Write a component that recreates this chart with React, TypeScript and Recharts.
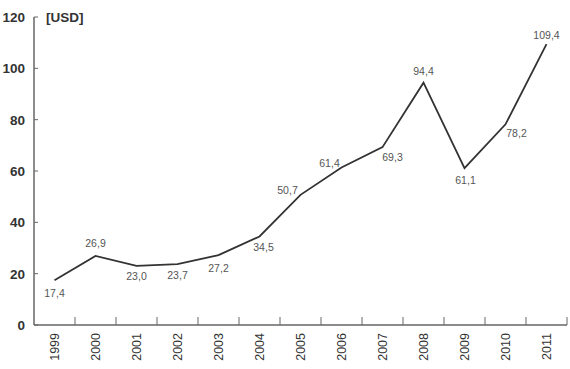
import { Line, LineChart, LabelList, ReferenceLine, XAxis, YAxis } from "recharts";

const years = [1999, 2000, 2001, 2002, 2003, 2004, 2005, 2006, 2007, 2008, 2009, 2010, 2011];
const prices = [17.4, 26.9, 23.0, 23.7, 27.2, 34.5, 50.7, 61.4, 69.3, 94.4, 61.1, 78.2, 109.4];
const yTicks = [0, 20, 40, 60, 80, 100, 120];
const boundaryTicks = [1999.5, 2000.5, 2001.5, 2002.5, 2003.5, 2004.5, 2005.5, 2006.5, 2007.5, 2008.5, 2009.5, 2010.5, 2011.5];
// where each value label sits relative to its point
const labelOffsets: [number, number][] = [
  [0, 13], [0, -13], [0, 10], [0, 11], [0, 13], [4, 11], [-13, -5],
  [-12, -4], [10, 10], [0, -12], [1, 12], [11, 9], [0, -9],
];

const data = years.map((year, i) => ({ year, price: prices[i] }));

const fmt = (v: number) => v.toFixed(1).replace(".", ",");

function YTick({ x, y, payload }: any) {
  return (
    <g>
      <line x1={x + 9} x2={x + 13} y1={y} y2={y} stroke="#666" strokeWidth={1} />
      <text x={x} y={y} dy={5} textAnchor="end" fontSize={13.5} fontWeight="bold" fill="#333" fontFamily="Liberation Sans, Arial, sans-serif">
        {payload.value}
      </text>
    </g>
  );
}

function YearTick({ x, y, payload }: any) {
  return (
    <text
      x={x}
      y={y}
      transform={`rotate(-90 ${x} ${y})`}
      dy={4.5}
      dx={-8}
      textAnchor="end"
      fontSize={12.5}
      fill="#333"
      fontFamily="Liberation Sans, Arial, sans-serif"
    >
      {payload.value}
    </text>
  );
}

function ValueLabel({ x, y, value, index }: any) {
  const [dx, dy] = labelOffsets[index] ?? [0, -10];
  return (
    <text x={x + dx} y={y + dy} dy={4} textAnchor="middle" fontSize={10.5} fill="#555" fontFamily="Liberation Sans Narrow, Liberation Sans, Arial, sans-serif">
      {fmt(value)}
    </text>
  );
}

export default function App() {
  return (
    <div style={{ position: "absolute", left: 0, top: 0, width: 570, height: 369, background: "#fff" }}>
      <LineChart width={570} height={369} data={data} margin={{ top: 17, right: 3, bottom: 0, left: 0 }}>
        <XAxis
          xAxisId="years"
          dataKey="year"
          type="number"
          domain={[1998.5, 2011.5]}
          ticks={years}
          height={44}
          tickSize={0}
          tickMargin={0}
          tickLine={false}
          axisLine={{ stroke: "#666", strokeWidth: 1.5 }}
          tick={<YearTick />}
          interval={0}
        />
        <YAxis
          domain={[0, 120]}
          ticks={yTicks}
          width={34}
          tickSize={0}
          tickMargin={9}
          tickLine={false}
          tick={<YTick />}
          axisLine={{ stroke: "#666", strokeWidth: 1.5 }}
          interval={0}
        />
        {boundaryTicks.map((b) => (
          <ReferenceLine
            key={b}
            xAxisId="years"
            segment={[{ x: b, y: 0 }, { x: b, y: 3.1 }]}
            stroke="#666"
            strokeWidth={1}
            ifOverflow="extendDomain"
          />
        ))}
        <Line xAxisId="years" dataKey="price" stroke="#333" strokeWidth={1.8} dot={false} isAnimationActive={false}>
          <LabelList dataKey="price" content={<ValueLabel />} />
        </Line>
      </LineChart>
      <div
        style={{
          position: "absolute",
          left: 46,
          top: 10,
          fontSize: 13.5,
          fontWeight: "bold",
          color: "#333",
          fontFamily: "Liberation Sans, Arial, sans-serif",
        }}
      >
        [USD]
      </div>
    </div>
  );
}
